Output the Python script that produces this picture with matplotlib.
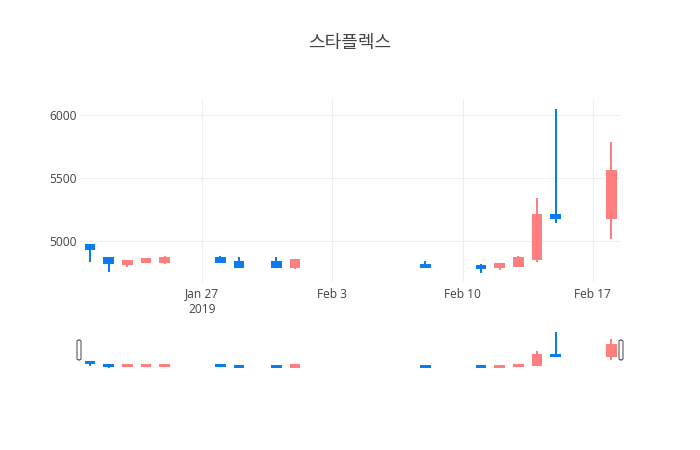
import matplotlib
matplotlib.use("Agg")
import matplotlib.pyplot as plt
import matplotlib.dates as mdates
from matplotlib.patches import FancyBboxPatch
import datetime as dt

# ---- data ----
dates = ["2019-01-21", "2019-01-22", "2019-01-23", "2019-01-24", "2019-01-25",
         "2019-01-28", "2019-01-29", "2019-01-31", "2019-02-01",
         "2019-02-08", "2019-02-11", "2019-02-12", "2019-02-13", "2019-02-14",
         "2019-02-15", "2019-02-18"]
open_ = [4970, 4865, 4815, 4830, 4835, 4865, 4835, 4835, 4790, 4810, 4805, 4790, 4805, 4855, 5210, 5180]
high = [4970, 4865, 4850, 4860, 4885, 4880, 4870, 4870, 4850, 4845, 4820, 4815, 4880, 5340, 6050, 5790]
low = [4835, 4755, 4790, 4825, 4815, 4825, 4790, 4790, 4775, 4795, 4750, 4770, 4805, 4830, 5140, 5020]
close = [4935, 4825, 4840, 4855, 4865, 4830, 4790, 4790, 4850, 4795, 4785, 4815, 4865, 5210, 5180, 5560]
title = "스타플렉스"
xtick_dates = ["2019-01-27", "2019-02-03", "2019-02-10", "2019-02-17"]
xtick_labels = ["Jan 27\n2019", "Feb 3", "Feb 10", "Feb 17"]
yticks = [5000, 5500, 6000]

UP = "#FF7F7F"
DOWN = "#0A7CF2"

W, H = 700, 450
fig = plt.figure(figsize=(W / 100, H / 100), dpi=100)
fig.patch.set_facecolor("white")

def fx(px):
    return px / W

def fy(py):
    return 1 - py / H

ax = fig.add_axes([fx(80), fy(282), fx(540), 182 / H])
axs = fig.add_axes([fx(80), fy(370), fx(540), 40.5 / H])

xs = mdates.date2num([dt.datetime.strptime(d, "%Y-%m-%d") for d in dates])
lw = 1.44
bw = 0.47

def draw(a, lwid):
    for x, o, h, l, c in zip(xs, open_, high, low, close):
        col = UP if c > o else DOWN
        a.vlines(x, l, h, color=col, linewidth=lwid, zorder=3)
        bot = min(o, c)
        ht = abs(c - o)
        a.bar(x, ht, bottom=bot, width=bw, color=col, edgecolor=col,
              linewidth=lwid, zorder=4)

draw(ax, lw)
draw(axs, lw)

span = max(high) - min(low)
ylo = min(low) - 0.058 * span
yhi = max(high) + 0.055 * span
x0 = mdates.date2num(dt.datetime(2019, 1, 20, 11))
x1 = mdates.date2num(dt.datetime(2019, 2, 18, 11))

for a in (ax, axs):
    a.set_xlim(x0, x1)
    a.set_ylim(ylo, yhi)
    for s in a.spines.values():
        s.set_visible(False)
    a.set_facecolor("white")

ax.set_yticks(yticks)
ax.set_yticklabels([str(v) for v in yticks])
ax.set_xticks(mdates.date2num([dt.datetime.strptime(d, "%Y-%m-%d") for d in xtick_dates]))
ax.set_xticklabels(xtick_labels)
ax.tick_params(axis="both", length=0, labelsize=8.64, labelcolor="#444444")
ax.tick_params(axis="y", pad=2)
ax.tick_params(axis="x", pad=4)
for lab in ax.get_xticklabels() + ax.get_yticklabels():
    lab.set_family("Open Sans")
ax.grid(True, color="#eeeeee", linewidth=0.8)
ax.set_axisbelow(True)

axs.set_xticks([])
axs.set_yticks([])

# grabbers of the range slider
for cx in (79, 621):
    p = FancyBboxPatch((fx(cx - 2), fy(360)), fx(4), 20 / H,
                       boxstyle="round,pad=0,rounding_size=0.003",
                       transform=fig.transFigure, facecolor="white",
                       edgecolor="#444444", linewidth=0.7, zorder=10)
    fig.patches.append(p)

fig.text(0.5, fy(43), title, ha="center", va="center", fontsize=13,
         color="#444444", family=["Noto Sans CJK KR", "DejaVu Sans"])

fig.savefig("out.png", dpi=100, facecolor="white")
